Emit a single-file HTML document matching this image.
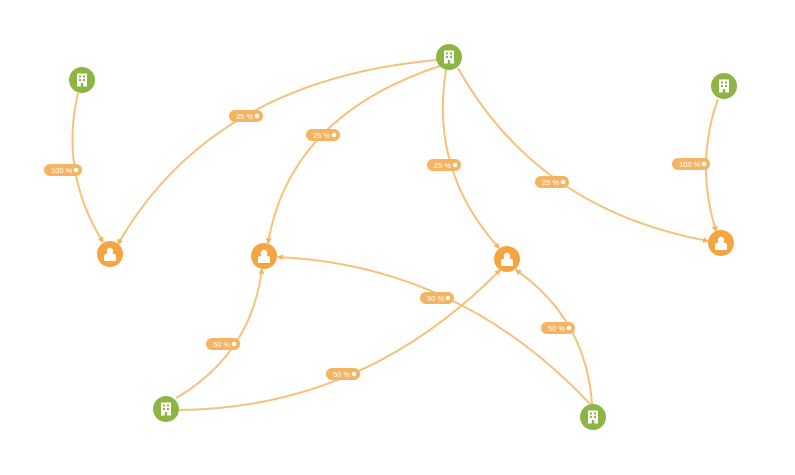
<!DOCTYPE html>
<html><head><meta charset="utf-8"><style>
html,body{margin:0;padding:0;background:#fff;}
svg{display:block;}
text{font-family:"Liberation Sans",sans-serif;font-size:7.5px;fill:#fff;}
</style></head><body>
<svg width="795" height="475" viewBox="0 0 795 475">
<defs>
<marker id="ar" viewBox="0 0 10 10" refX="8" refY="5" markerWidth="6" markerHeight="6" orient="auto" markerUnits="userSpaceOnUse">
<path d="M0,0 L10,5 L0,10 z" fill="#f5b461"/></marker>
<g id="bld"><rect x="-5" y="-6.5" width="10" height="13" fill="#fff"/>
<rect x="-3" y="-4.5" width="2" height="2" fill="#8db543"/><rect x="1" y="-4.5" width="2" height="2" fill="#8db543"/>
<rect x="-3" y="-1" width="2" height="2" fill="#8db543"/><rect x="1" y="-1" width="2" height="2" fill="#8db543"/>
<rect x="-1.2" y="3" width="2.4" height="3.5" fill="#8db543"/></g>
<g id="per"><circle cx="0" cy="-3" r="3.2" fill="#fff"/><path d="M-6,7 L-6,2 Q-6,0 -3,-0.5 L3,-0.5 Q6,0 6,2 L6,7 z" fill="#fff"/></g>
</defs>
<g fill="none" stroke="#f5c27a" stroke-width="2" marker-end="url(#ar)">
<path d="M78,93 Q59.5,172.5 103,242"/>
<path d="M437,60 Q212.5,80 118,244"/>
<path d="M440,66 Q290,115.5 268,243"/>
<path d="M446,70 Q429.5,171 499,248"/>
<path d="M458,68 Q537,209.5 708,241"/>
<path d="M718,99 Q695,163 716,231"/>
<path d="M176,398 Q251,354.5 262,269"/>
<path d="M179,410 Q364.5,408 500,270"/>
<path d="M590,404 Q460,265.5 278,257"/>
<path d="M592,404 Q586,319 516,270"/>
</g>
<g>
<g transform="translate(44,164)"><rect width="38" height="12" rx="6" fill="#f5b461"/><text x="7" y="8.8">100 %</text><circle cx="32" cy="6" r="2.3" fill="#fff"/></g>
<g transform="translate(229,110)"><rect width="34" height="12" rx="6" fill="#f5b461"/><text x="7" y="8.8">25 %</text><circle cx="28" cy="6" r="2.3" fill="#fff"/></g>
<g transform="translate(306,129)"><rect width="34" height="12" rx="6" fill="#f5b461"/><text x="7" y="8.8">25 %</text><circle cx="28" cy="6" r="2.3" fill="#fff"/></g>
<g transform="translate(427,159)"><rect width="34" height="12" rx="6" fill="#f5b461"/><text x="7" y="8.8">25 %</text><circle cx="28" cy="6" r="2.3" fill="#fff"/></g>
<g transform="translate(535,176)"><rect width="34" height="12" rx="6" fill="#f5b461"/><text x="7" y="8.8">25 %</text><circle cx="28" cy="6" r="2.3" fill="#fff"/></g>
<g transform="translate(672,158)"><rect width="38" height="12" rx="6" fill="#f5b461"/><text x="7" y="8.8">100 %</text><circle cx="32" cy="6" r="2.3" fill="#fff"/></g>
<g transform="translate(206,338)"><rect width="34" height="12" rx="6" fill="#f5b461"/><text x="7" y="8.8">50 %</text><circle cx="28" cy="6" r="2.3" fill="#fff"/></g>
<g transform="translate(326,368)"><rect width="34" height="12" rx="6" fill="#f5b461"/><text x="7" y="8.8">50 %</text><circle cx="28" cy="6" r="2.3" fill="#fff"/></g>
<g transform="translate(420,292)"><rect width="34" height="12" rx="6" fill="#f5b461"/><text x="7" y="8.8">50 %</text><circle cx="28" cy="6" r="2.3" fill="#fff"/></g>
<g transform="translate(541,322)"><rect width="34" height="12" rx="6" fill="#f5b461"/><text x="7" y="8.8">50 %</text><circle cx="28" cy="6" r="2.3" fill="#fff"/></g>
</g>
<g>
<g transform="translate(82,80)"><circle r="13" fill="#8db543"/><use href="#bld"/></g>
<g transform="translate(449,57)"><circle r="13" fill="#8db543"/><use href="#bld"/></g>
<g transform="translate(724,86)"><circle r="13" fill="#8db543"/><use href="#bld"/></g>
<g transform="translate(166,409)"><circle r="13" fill="#8db543"/><use href="#bld"/></g>
<g transform="translate(593,417)"><circle r="13" fill="#8db543"/><use href="#bld"/></g>
<g transform="translate(110,254)"><circle r="13" fill="#f5a540"/><use href="#per"/></g>
<g transform="translate(264,256)"><circle r="13" fill="#f5a540"/><use href="#per"/></g>
<g transform="translate(507,259)"><circle r="13" fill="#f5a540"/><use href="#per"/></g>
<g transform="translate(721,243)"><circle r="13" fill="#f5a540"/><use href="#per"/></g>
</g>
</svg>
</body></html>
